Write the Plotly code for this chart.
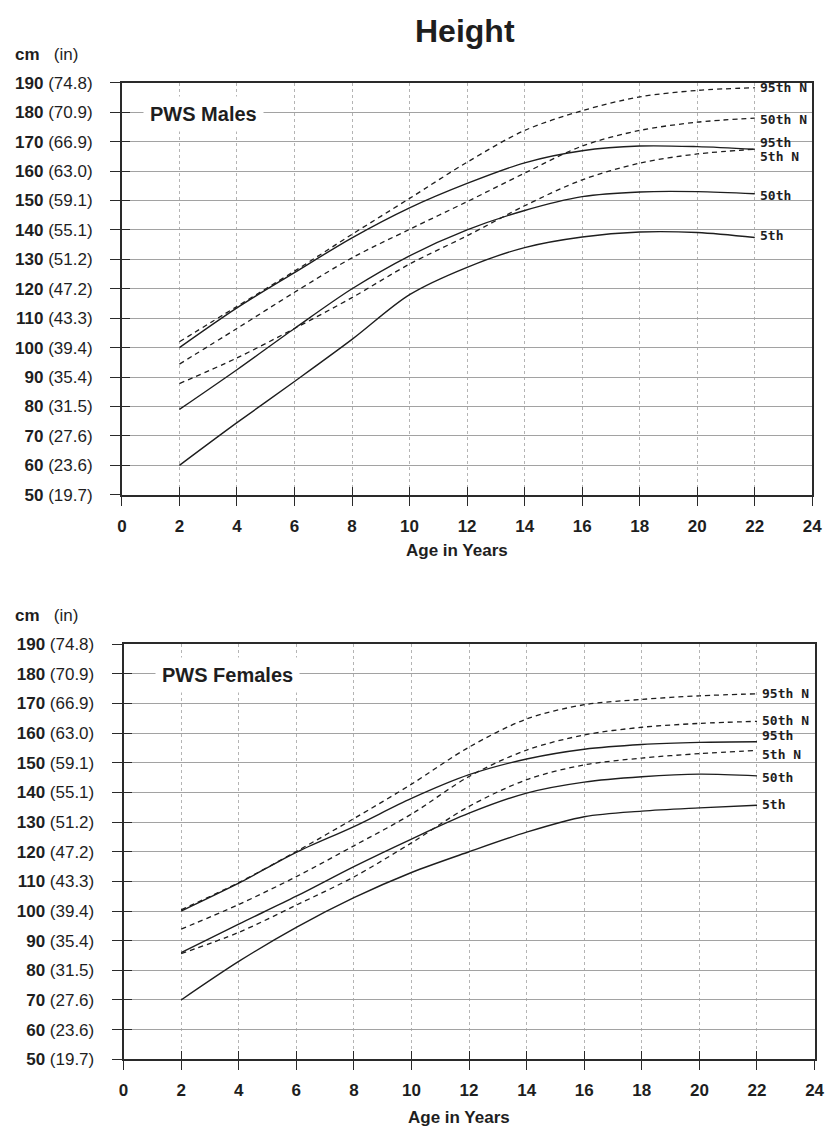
import plotly.graph_objects as go

# Ages (years) at which the percentile curves are given
ages = [2, 4, 6, 8, 10, 12, 14, 16, 18, 20, 22]

# PWS males, height in cm
male_p5 = [60, 74.5, 88.5, 102.8, 118, 127.3, 134, 137.6, 139.3, 139.1, 137.4]
male_p50 = [79, 92.5, 106.5, 120, 131.2, 140, 146.6, 151.3, 152.9, 153, 152.3]
male_p95 = [100, 113.5, 125.5, 137.3, 147.5, 155.8, 162.8, 166.9, 168.5, 168.3, 167.4]
# Normal (non-PWS) reference males
male_n5 = [87.8, 96.5, 106.5, 117, 128.4, 138, 148.2, 157, 162.7, 165.8, 167.4]
male_n50 = [94.4, 106.5, 118.8, 130.5, 140.2, 149.6, 159.3, 168.5, 173.8, 176.6, 178]
male_n95 = [102, 114, 126, 138.5, 150.7, 163, 173.8, 180.5, 185.2, 187.4, 188.3]

# PWS females, height in cm
female_p5 = [70, 83, 94.5, 104.5, 113, 120, 126.6, 131.8, 133.7, 134.8, 135.7]
female_p50 = [86, 95.6, 105, 115, 124.3, 133, 139.8, 143.5, 145.3, 146.2, 145.6]
female_p95 = [100, 109.4, 119.8, 128.5, 138, 146, 151.3, 154.6, 156.2, 156.9, 157.1]
# Normal (non-PWS) reference females
female_n5 = [85.6, 92.8, 102, 111.5, 123, 135.3, 144.3, 149.3, 151.6, 153.1, 154.2]
female_n50 = [93.9, 102.2, 111.6, 122, 132.7, 145.4, 154.3, 159.4, 162, 163.3, 164]
female_n95 = [100.4, 109.6, 120.1, 131.2, 142.8, 155.3, 164.8, 169.6, 171.4, 172.6, 173.3]

curve_names = ["5th", "50th", "95th", "5th N", "50th N", "95th N"]

# Axis ticks
age_ticks = list(range(0, 25, 2))
cm_ticks = list(range(50, 200, 10))
inch_labels = ["19.7", "23.6", "27.6", "31.5", "35.4", "39.4", "43.3", "47.2",
               "51.2", "55.1", "59.1", "63.0", "66.9", "70.9", "74.8"]

W, H = 840, 1143
FONT = "Liberation Sans, Arial, sans-serif"
INK = "#1e1e1e"


def px_x(p):
    return p / W


def px_y(p):
    return 1 - p / H


fig = go.Figure()

panels = [
    dict(x="x", y="y", xo="x3", yo="y3",
         series=[male_p5, male_p50, male_p95, male_n5, male_n50, male_n95],
         shifts={"95th": 7, "5th N": -7, "50th N": -1, "50th": -2, "5th": 2},
         title="PWS Males", title_x=0.72,
         xdom=[119 / W, 822 / W], ydom=[px_y(494), px_y(75)],
         cm_y=46, age_y=551, age_x=460),
    dict(x="x2", y="y2", xo="x4", yo="y4",
         series=[female_p5, female_p50, female_p95, female_n5, female_n50, female_n95],
         shifts={"95th": 6, "5th N": -4, "50th N": 1, "50th": -2, "5th": 1},
         title="PWS Females", title_x=1.09,
         xdom=[120.7 / W, 824.3 / W], ydom=[px_y(1068), px_y(646)],
         cm_y=617, age_y=1127, age_x=462),
]

annotations = []
for pn in panels:
    for name, vals in zip(curve_names, pn["series"]):
        normal = name.endswith("N")
        fig.add_trace(go.Scatter(
            x=ages, y=vals, mode="lines", name=name, showlegend=False,
            line=dict(color=INK, width=1.4 if not normal else 1.3,
                      dash="5px,4px" if normal else "solid", shape="spline",
                      smoothing=0.9),
            xaxis=pn["x"], yaxis=pn["y"], hoverinfo="skip"))
        annotations.append(dict(
            x=22.1, y=vals[-1], xref=pn["x"], yref=pn["y"], text=name,
            showarrow=False, xanchor="left", yanchor="middle",
            yshift=pn["shifts"].get(name, 0),
            font=dict(family="DejaVu Sans Mono", size=13, color=INK, weight="bold")))
    # empty traces that carry the overlaid axes used for the inner tick halves
    fig.add_trace(go.Scatter(x=[], y=[], xaxis=pn["xo"], yaxis=pn["y"],
                             showlegend=False, hoverinfo="skip"))
    fig.add_trace(go.Scatter(x=[], y=[], xaxis=pn["x"], yaxis=pn["yo"],
                             showlegend=False, hoverinfo="skip"))

    annotations.append(dict(
        x=pn["title_x"], y=179.5, xref=pn["x"], yref=pn["y"], text="<b>%s</b>" % pn["title"],
        showarrow=False, xanchor="left", yanchor="middle", bgcolor="white",
        borderpad=6, font=dict(family=FONT, size=20, color=INK)))
    annotations.append(dict(
        x=px_x(8), y=px_y(pn["cm_y"]), xref="paper", yref="paper",
        text="<b>cm</b>&nbsp;&nbsp;&nbsp;(in)", showarrow=False,
        xanchor="left", yanchor="middle", font=dict(family=FONT, size=17, color=INK)))
    annotations.append(dict(
        x=px_x(pn["age_x"]), y=px_y(pn["age_y"]), xref="paper", yref="paper",
        text="<b>Age in Years</b>", showarrow=False, xanchor="center", yanchor="middle",
        font=dict(family=FONT, size=17, color=INK)))

annotations.append(dict(
    x=px_x(468), y=px_y(22), xref="paper", yref="paper", text="<b>Height</b>",
    showarrow=False, xanchor="center", yanchor="middle",
    font=dict(family=FONT, size=32, color=INK)))

y_ticktext = ["<b>%d</b> (%s)" % (c, i) for c, i in zip(cm_ticks, inch_labels)]
x_ticktext = ["<b>%d</b>" % a for a in age_ticks]

layout_axes = {}
for k, pn in enumerate(panels):
    xa = "xaxis" if k == 0 else "xaxis2"
    ya = "yaxis" if k == 0 else "yaxis2"
    xo = "xaxis3" if k == 0 else "xaxis4"
    yo = "yaxis3" if k == 0 else "yaxis4"
    layout_axes[xa] = dict(
        domain=pn["xdom"], anchor=pn["y"], range=[0, 24], tickvals=age_ticks,
        ticktext=x_ticktext, showgrid=True, gridcolor="#b4b4b4", griddash="dot",
        gridwidth=1, showline=True, mirror=True, linecolor="#2a2a2a", linewidth=1.6,
        ticks="outside", ticklen=9, tickwidth=1.4, tickcolor="#2a2a2a",
        ticklabelstandoff=6, zeroline=False,
        tickfont=dict(family=FONT, size=17, color=INK), fixedrange=True)
    layout_axes[ya] = dict(
        domain=pn["ydom"], anchor=pn["x"], range=[50, 190], tickvals=cm_ticks,
        ticktext=y_ticktext, showgrid=True, gridcolor="#a2a2a2", gridwidth=1,
        showline=True, mirror=True, linecolor="#2a2a2a", linewidth=1.8,
        ticks="outside", ticklen=10, tickwidth=1.4, tickcolor="#2a2a2a",
        ticklabelstandoff=14, zeroline=False,
        tickfont=dict(family=FONT, size=17, color=INK), fixedrange=True)
    layout_axes[xo] = dict(
        overlaying=pn["x"], matches=pn["x"], anchor=pn["y"], tickvals=age_ticks,
        ticks="inside", ticklen=8, tickwidth=1.4, tickcolor="#2a2a2a",
        showticklabels=False, showgrid=False, showline=False, zeroline=False)
    layout_axes[yo] = dict(
        overlaying=pn["y"], matches=pn["y"], anchor=pn["x"], side="left",
        tickvals=cm_ticks, ticks="inside", ticklen=8, tickwidth=1.4,
        tickcolor="#2a2a2a", showticklabels=False, showgrid=False,
        showline=False, zeroline=False)

fig.update_layout(
    width=W, height=H, margin=dict(l=0, r=0, t=0, b=0),
    paper_bgcolor="white", plot_bgcolor="white",
    annotations=annotations, showlegend=False, **layout_axes)

# the figure fills the page exactly, so drop the default body margin
fig.write_html("out.html",
               post_script="document.body.style.margin='0';"
                           "document.body.style.overflow='hidden';")
